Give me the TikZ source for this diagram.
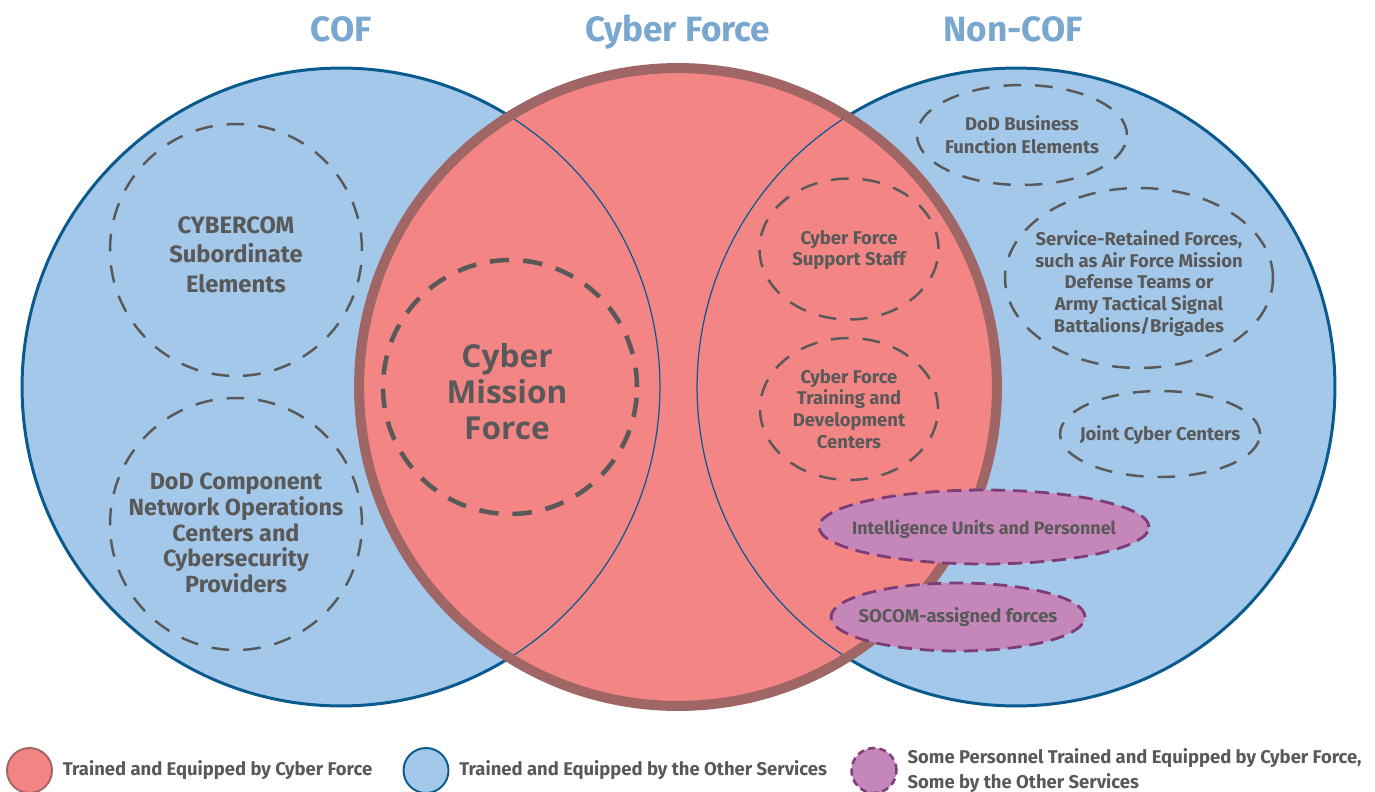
\documentclass[tikz,border=0pt]{standalone}
\usepackage{fontspec}
\setmainfont{Fira Sans}
\newfontfamily\cmffont{Open Sans}
\usepackage{tikz}
\usetikzlibrary{shapes.geometric}
\usetikzlibrary{positioning}

\definecolor{cofblue}{HTML}{A3C8EA}
\definecolor{cofline}{HTML}{0B5A8E}
\definecolor{cfred}{HTML}{F38585}
\definecolor{cfring}{HTML}{A06565}
\definecolor{mixpurple}{HTML}{C586BA}
\definecolor{mixline}{HTML}{7E3D76}
\definecolor{textgray}{HTML}{595959}
\definecolor{titleblue}{HTML}{7AA7CF}

\begin{document}
\begin{tikzpicture}[x=0.02cm,y=-0.02cm]
	\useasboundingbox (0,0) rectangle (1375,791);

	\begin{scope}[every node/.style={anchor=base, text=titleblue, font=\fontsize{20}{24}\selectfont\bfseries}]
		\node (tcof) at (341,41) {COF};
		\node (tcf) at (678,41) {Cyber Force};
		\node (tnoncof) at (1013,41) {Non-COF};
	\end{scope}

	\begin{scope}[every node/.style={circle, minimum size=12.76cm, inner sep=0pt}]
		\node[fill=cofblue, draw=cofline, line width=1.7pt] (cof) at (341,387) {};
		\node[fill=cofblue, draw=cofline, line width=1.7pt] (noncof) at (1016,387) {};
		\node[fill=cfred] (cf) at (678,387) {};
		\node[draw=cofline, line width=0.7pt] (cofedge) at (341,387) {};
		\node[draw=cofline, line width=0.7pt] (noncofedge) at (1016,387) {};
		\node[draw=cfring, line width=5.7pt] (cfring) at (678,387) {};
	\end{scope}

	% dashed groups
	\begin{scope}[every node/.style={ellipse, draw=textgray, line width=1.4pt, dash pattern=on 10pt off 8pt, inner sep=0pt}]
		\node[minimum width=5.04cm, minimum height=5.04cm] (cybercom) at (236,250) {};
		\node[minimum width=5.04cm, minimum height=5.04cm] (dodcomp) at (236,524) {};
		\node[minimum width=5.08cm, minimum height=5.08cm, line width=2.6pt, dash pattern=on 11pt off 8pt] (cmf) at (510,387) {};
		\node[minimum width=3.58cm, minimum height=2.82cm] (support) at (849,249) {};
		\node[minimum width=3.56cm, minimum height=2.84cm] (training) at (849,409) {};
		\node[minimum width=4.2cm, minimum height=2.0cm] (business) at (1022,135) {};
		\node[minimum width=5.36cm, minimum height=3.6cm] (retained) at (1139,278) {};
		\node[minimum width=4.0cm, minimum height=1.72cm] (joint) at (1160,434) {};
	\end{scope}

	\begin{scope}[every node/.style={ellipse, fill=mixpurple, draw=mixline, line width=1.6pt, dash pattern=on 8pt off 4.5pt, inner sep=0pt}]
		\node[minimum width=6.6cm, minimum height=1.48cm] (intel) at (984,527) {};
		\node[minimum width=5.08cm, minimum height=1.36cm] (socom) at (958,617) {};
	\end{scope}

	\begin{scope}[every node/.style={text=textgray, align=center, inner sep=0pt, font=\fontsize{10.5}{12.4}\selectfont\bfseries}]
		\node[font=\fontsize{13.5}{16.8}\selectfont\bfseries] (cybercomtext) at (236,254.5) {CYBERCOM\\Subordinate\\Elements};
		\node[font=\fontsize{13.3}{14.7}\selectfont\bfseries] (dodcomptext) at (236,533) {DoD Component\\Network Operations\\Centers and\\Cybersecurity\\Providers};
		\node[font=\fontsize{18}{20.5}\cmffont\bfseries] (cmftext) at (507,391.5) {Cyber\\Mission\\Force};
		\node (supporttext) at (849,250) {Cyber Force\\Support Staff};
		\node (trainingtext) at (849,409) {Cyber Force\\Training and\\Development\\Centers};
		\node[font=\fontsize{10.5}{13}\selectfont\bfseries] (businesstext) at (1022,135) {DoD Business\\Function Elements};
		\node[font=\fontsize{10.5}{12.3}\selectfont\bfseries] (retainedtext) at (1139,283.5) {Service-Retained Forces,\\such as Air Force Mission\\Defense Teams or\\Army Tactical Signal\\Battalions/Brigades};
		\node (jointtext) at (1160,435) {Joint Cyber Centers};
		\node[font=\fontsize{10.2}{12.4}\selectfont\bfseries] (inteltext) at (984,529) {Intelligence Units and Personnel};
		\node (socomtext) at (958,617) {SOCOM-assigned forces};
	\end{scope}

	% legend
	\begin{scope}[every node/.style={circle, minimum size=0.9cm, inner sep=0pt}]
		\node[fill=cfred, draw=cfring, line width=1.1pt] (legcf) at (29.5,770.5) {};
		\node[fill=cofblue, draw=cofline, line width=1.1pt] (legother) at (426,770.5) {};
		\node[fill=mixpurple, draw=mixline, line width=1.4pt, dash pattern=on 4pt off 2.5pt] (legmix) at (874,770.5) {};
	\end{scope}
	\begin{scope}[node distance=0.19cm, every node/.style={text=textgray, inner sep=0pt, align=left,
	              font=\fontsize{10.5}{14.2}\selectfont\bfseries}]
		\node[right=of legcf] (legcftext) {Trained and Equipped by Cyber Force};
		\node[right=of legother] (legothertext) {Trained and Equipped by the Other Services};
		\node[right=of legmix] (legmixtext) {Some Personnel Trained and Equipped by Cyber Force,\\Some by the Other Services};
	\end{scope}
\end{tikzpicture}
\end{document}
